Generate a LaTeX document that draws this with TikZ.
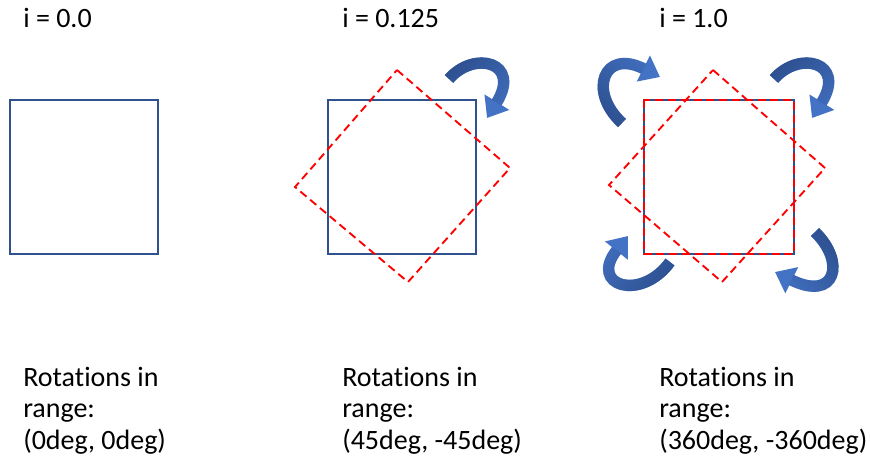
\documentclass[tikz,border=0pt]{standalone}
\usepackage{fontspec}
\setmainfont[Ligatures=NoCommon]{Carlito}
\usetikzlibrary{arrows.meta,fadings}
\definecolor{sqblue}{RGB}{47,82,143}
\definecolor{arrblue}{RGB}{68,114,196}
\definecolor{arrdark}{RGB}{44,78,140}
\definecolor{rotred}{RGB}{255,0,0}
\tikzfading[name=tailfade,left color=transparent!0,right color=transparent!100]

\begin{document}
\begin{tikzpicture}[x=0.75pt,y=-0.75pt,
  every node/.style={font=\fontsize{21}{23.6}\selectfont,inner sep=0pt,anchor=base west,align=left},
  frame/.style={draw=sqblue,line width=1.6pt},
  rotframe/.style={draw=rotred,line width=1.4pt,dash pattern=on 6pt off 3.6pt},
  turn/.style={draw=arrblue,line width=8.5pt,-{Triangle[length=14pt,width=21pt]}},
  shade turn/.style={draw=arrdark,line width=8.5pt,shorten >=13.5pt,path fading=tailfade,fading angle=#1}]
\useasboundingbox (0,0) rectangle (870,460);
% labels on top
\node (i0) at (23,28) {i = 0.0};
\node (i1) at (342,28) {i = 0.125};
\node (i2) at (659,28) {i = 1.0};
% i = 0.0
\draw[frame] (10,100) rectangle (158,254);
% i = 0.125
\draw[frame] (328,100) rectangle (476,254);
\draw[rotframe] (397,70) -- (510,168) -- (408,282) -- (295,187) -- cycle;
\coordinate (t1) at (449,79);
\coordinate (h1) at (487,118);
\draw[turn] (t1) .. controls (474,50) and (522,62) .. (h1);
\draw[shade turn=-45] (t1) .. controls (474,50) and (522,62) .. (h1);
% i = 1.0
\draw[frame] (644,100) rectangle (794,254);
\draw[rotframe] (713,70) -- (825,168) -- (722,282) -- (609,185) -- cycle;
\draw[rotframe] (644,100) rectangle (794,254);
\coordinate (t2) at (774,79);
\coordinate (h2) at (812,118);
\draw[turn] (t2) .. controls (799,50) and (847,62) .. (h2);
\draw[shade turn=-45] (t2) .. controls (799,50) and (847,62) .. (h2);
\coordinate (t3) at (622,123);
\coordinate (h3) at (660,77);
\draw[turn] (t3) .. controls (588,92) and (603,48) .. (h3);
\draw[shade turn=50] (t3) .. controls (588,92) and (603,48) .. (h3);
\coordinate (t4) at (670,262);
\coordinate (h4) at (628,236);
\draw[turn] (t4) .. controls (641,302) and (588,286) .. (h4);
\draw[shade turn=150] (t4) .. controls (641,302) and (588,286) .. (h4);
\coordinate (t5) at (815,232);
\coordinate (h5) at (775,272);
\draw[turn] (t5) .. controls (846,262) and (836,302) .. (h5);
\draw[shade turn=-135] (t5) .. controls (846,262) and (836,302) .. (h5);
% ranges
\node (r0) at (23,449) {Rotations in\\range:\\(0deg, 0deg)};
\node (r1) at (342,449) {Rotations in\\range:\\(45deg, -45deg)};
\node (r2) at (659,449) {Rotations in\\range:\\(360deg, -360deg)};
\end{tikzpicture}
\end{document}
